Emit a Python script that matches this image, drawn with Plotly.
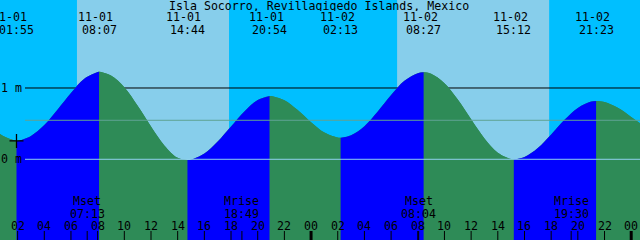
import plotly.graph_objects as go

TITLE = "Isla Socorro, Revillagigedo Islands, Mexico"

# Tide extremes (date, clock time, height in m)
tide_dates = ["11-01", "11-01", "11-01", "11-01", "11-02", "11-02", "11-02", "11-02"]
tide_clock = ["01:55", "08:07", "14:44", "20:54", "02:13", "08:27", "15:12", "21:23"]
tide_heights = [0.257, 1.229, -0.01, 0.888, 0.303, 1.22, 0.0, 0.818]

# Water level at each full hour (hours since 11-01 00:00)
curve_hours = [0, 1, 2, 3, 4, 5, 6, 7, 8, 9, 10, 11, 12, 13, 14, 15, 16, 17, 18, 19,
               20, 21, 22, 23, 24, 25, 26, 27, 28, 29, 30, 31, 32, 33, 34, 35, 36, 37,
               38, 39, 40, 41, 42, 43, 44, 45, 46, 47, 48, 49]
curve_heights = [0.44, 0.32, 0.257, 0.328, 0.48, 0.70, 0.93, 1.13, 1.225, 1.175,
                 1.01, 0.75, 0.46, 0.195, 0.02, -0.006, 0.08, 0.25, 0.46, 0.67,
                 0.83, 0.887, 0.828, 0.690, 0.520, 0.375, 0.305, 0.338, 0.465, 0.67,
                 0.90, 1.10, 1.208, 1.200, 1.068, 0.838, 0.560, 0.293, 0.092, 0.003,
                 0.033, 0.159, 0.349, 0.553, 0.721, 0.810, 0.803, 0.722, 0.594, 0.459]

# Sun (daylight) and moon events
sunrise = ["11-01 06:27", "11-02 06:27"]
sunset = ["11-01 17:51", "11-02 17:51"]
moon_names = ["Mset", "Mrise", "Mset", "Mrise"]
moon_clock = ["11-01 07:13", "11-01 18:49", "11-02 08:04", "11-02 19:30"]

# Hour ticks
tick_hours = [2, 4, 6, 8, 10, 12, 14, 16, 18, 20, 22, 24,
              26, 28, 30, 32, 34, 36, 38, 40, 42, 44, 46, 48]
tick_labels = ["02", "04", "06", "08", "10", "12", "14", "16", "18", "20", "22", "00",
               "02", "04", "06", "08", "10", "12", "14", "16", "18", "20", "22", "00"]

# Reference levels
level_values = [1.0, 0.0]
level_labels = ["1 m", "0 m"]
mean_level = 0.547

NIGHT = "#00BFFF"
DAY = "#87CEEB"
RISE = "#0000FF"
FALL = "#2E8B57"
FONT = "DejaVu Sans Mono"
FS = 11.6
H = 240.0
YBOT = -1.6


def to_hours(s):
    d, t = s.split(" ")
    day = int(d.split("-")[1])
    hh, mm = t.split(":")
    return (day - 1) * 24 + int(hh) + int(mm) / 60.0


tide_hours = [to_hours(d + " " + c) for d, c in zip(tide_dates, tide_clock)]

pts = sorted(list(zip(curve_hours, curve_heights)) + list(zip(tide_hours, tide_heights)))

fig = go.Figure()

# green underlay for the whole water body
fig.add_trace(go.Scatter(x=[curve_hours[0], curve_hours[-1]], y=[YBOT, YBOT], mode="lines",
                         line=dict(width=0), hoverinfo="skip"))
fig.add_trace(go.Scatter(x=[p[0] for p in pts], y=[p[1] for p in pts], mode="lines",
                         line=dict(width=0, shape="spline", smoothing=1), fill="tonexty",
                         fillcolor=FALL, hoverinfo="skip"))

bounds = [curve_hours[0]] + tide_hours + [curve_hours[-1]]
for a, b in zip(bounds[:-1], bounds[1:]):
    seg = [p for p in pts if a <= p[0] <= b]
    rising = seg[-1][1] > seg[0][1]
    color = RISE if rising else FALL
    fig.add_trace(go.Scatter(x=[a, b], y=[YBOT, YBOT], mode="lines",
                             line=dict(width=0), hoverinfo="skip"))
    fig.add_trace(go.Scatter(x=[p[0] for p in seg], y=[p[1] for p in seg], mode="lines",
                             line=dict(width=0, shape="spline", smoothing=1), fill="tonexty",
                             fillcolor=color, hoverinfo="skip"))

# cross mark at first low tide
fig.add_trace(go.Scatter(x=[tide_hours[0]], y=[tide_heights[0]], mode="markers",
                         marker=dict(symbol="cross-thin", size=10,
                                     line=dict(width=1.3, color="black")),
                         hoverinfo="skip"))

shapes = []
for r, s in zip(sunrise, sunset):
    shapes.append(dict(type="rect", xref="x", yref="paper", x0=to_hours(r), x1=to_hours(s),
                       y0=0, y1=1, fillcolor=DAY, line=dict(width=0), layer="below"))
shapes.append(dict(type="line", xref="paper", yref="y", x0=25 / 640, x1=1,
                   y0=level_values[0], y1=level_values[0],
                   line=dict(color="black", width=1), layer="below"))
shapes.append(dict(type="line", xref="paper", yref="y", x0=25 / 640, x1=1,
                   y0=mean_level, y1=mean_level, line=dict(color="#5FA393", width=1)))
shapes.append(dict(type="line", xref="paper", yref="y", x0=25 / 640, x1=1,
                   y0=level_values[1], y1=level_values[1], line=dict(color="#8FD0EE", width=1)))
for hr, lab in zip(tick_hours, tick_labels):
    shapes.append(dict(type="line", xref="x", yref="paper", x0=hr, x1=hr, y0=0, y1=9 / H,
                       line=dict(color="black", width=3 if lab == "00" else 1)))
for m in moon_clock:
    mh = to_hours(m)
    shapes.append(dict(type="line", xref="x", yref="paper", x0=mh, x1=mh, y0=0, y1=9 / H,
                       line=dict(color="black", width=1)))

ann = []


def txt(x, xref, ypx, text, xanchor="center", xshift=0):
    ann.append(dict(x=x, xref=xref, y=1 - ypx / H, yref="paper", text=text, showarrow=False,
                    xanchor=xanchor, yanchor="middle", borderpad=0, height=10,
                    valign="middle", xshift=xshift,
                    font=dict(family=FONT, size=FS, color="black")))


txt(0.4992, "paper", 5.5, TITLE)
for i, (th, d, c) in enumerate(zip(tide_hours, tide_dates, tide_clock)):
    txt(th, "x", 17.2, d, xshift=-7 if i == 0 else -3.5)
    txt(th, "x", 29.7, c)
for name, m in zip(moon_names, moon_clock):
    mh = to_hours(m)
    txt(mh, "x", 201.4, name)
    txt(mh, "x", 213.8, m.split(" ")[1])
for hr, lab in zip(tick_hours, tick_labels):
    txt(hr, "x", 225.8, lab)
for v, lab in zip(level_values, level_labels):
    ypx = 159.3 - 71.3 * v
    txt(0.0, "paper", ypx, lab, xanchor="left")

fig.update_layout(
    width=640, height=240, margin=dict(l=0, r=0, t=0, b=0),
    paper_bgcolor=NIGHT, plot_bgcolor=NIGHT, showlegend=False,
    xaxis=dict(range=[0.68, 48.66], visible=False, fixedrange=True),
    yaxis=dict(range=[-1.132, 2.234], visible=False, fixedrange=True),
    shapes=shapes, annotations=ann,
)

fig.write_html("out.html", config={"displayModeBar": False})
